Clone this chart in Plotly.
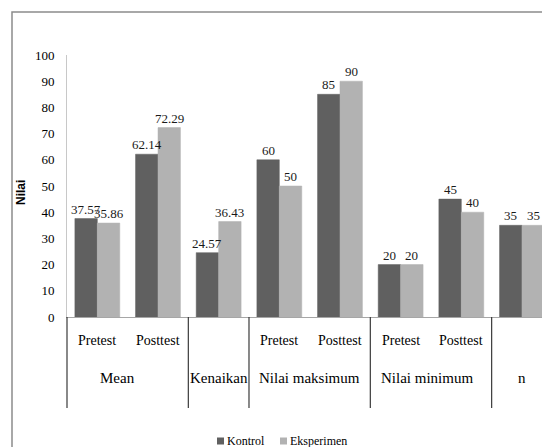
import plotly.graph_objects as go

groups = ["Mean", "Mean", "Kenaikan", "Nilai maksimum", "Nilai maksimum",
          "Nilai minimum", "Nilai minimum", "n"]
subs = ["Pretest", "Posttest", "", "Pretest", "Posttest", "Pretest", "Posttest", ""]
kontrol = [37.57, 62.14, 24.57, 60, 85, 20, 45, 35]
eksperimen = [35.86, 72.29, 36.43, 50, 90, 20, 40, 35]
series_names = ["Kontrol", "Eksperimen"]
series_colors = ["#606060", "#b2b2b2"]
y_title = "Nilai"

W, H = 542, 447
ML, MR, MT, MB = 67, 0, 55, 130
X_RANGE = [-0.5, 7.33]
BARGAP = 0.26
plot_w = W - ML - MR
plot_h = H - MT - MB

def pxx(px):
    return (px - ML) / plot_w

def pxy(py):
    return (H - MB - py) / plot_h

keys = [g + " | " + s if s else g for g, s in zip(groups, subs)]

SERIF = "Liberation Serif"
fig = go.Figure()
for name, vals, col in zip(series_names, [kontrol, eksperimen], series_colors):
    fig.add_trace(go.Bar(
        x=keys, y=vals, name=name, marker_color=col,
        marker_line=dict(color=col, width=0.5), showlegend=False))

annotations = []
# value labels (drawn above all bars)
bar_w = (1 - BARGAP) / 2
for k, vals in enumerate([kontrol, eksperimen]):
    off = (k - 0.5) * bar_w
    for i, v in enumerate(vals):
        annotations.append(dict(x=i + off, xref="x", y=v, yref="y", text=f"{v:g}",
                                showarrow=False, yanchor="bottom", yshift=0,
                                font=dict(family=SERIF, size=13, color="#1a1a1a")))
# sub-category labels
for i, s in enumerate(subs):
    if s:
        annotations.append(dict(x=i, xref="x", y=pxy(340), yref="paper", text=s,
                                showarrow=False, yanchor="middle",
                                font=dict(family=SERIF, size=14, color="#000000")))
# group labels
group_order = []
for i, g in enumerate(groups):
    if not group_order or group_order[-1][0] != g:
        group_order.append([g, i, i])
    else:
        group_order[-1][2] = i
group_shift = {"Mean": -10, "Nilai minimum": -4}
for g, a, b in group_order:
    cx = (a + b) / 2
    annotations.append(dict(x=cx, xref="x", y=pxy(378), yref="paper", text=g,
                            showarrow=False, yanchor="middle",
                            xshift=group_shift.get(g, 0),
                            font=dict(family=SERIF, size=15, color="#000000")))
# y axis title
annotations.append(dict(x=pxx(21), xref="paper", y=pxy(193), yref="paper",
                        text="<b>" + y_title + "</b>", textangle=-90, showarrow=False,
                        xanchor="center", yanchor="middle",
                        font=dict(family="Liberation Sans", size=12, color="#000000")))

shapes = []
# group dividers
bounds = [-0.5] + [b + 0.5 for _, _, b in group_order[:-1]]
for bx in bounds:
    xp = (bx - X_RANGE[0]) / (X_RANGE[1] - X_RANGE[0])
    shapes.append(dict(type="line", xref="paper", yref="paper", x0=xp, x1=xp,
                       y0=0, y1=pxy(408), line=dict(color="#3a3a3a", width=1.2)))
# outer frame
shapes.append(dict(type="rect", xref="paper", yref="paper",
                   x0=pxx(12), x1=pxx(W + 20), y0=pxy(H + 20), y1=pxy(12),
                   line=dict(color="#8c8c8c", width=1.5), layer="below"))

# legend (swatches + labels)
legend_items = [(217, 226), (280, 289)]
for (sx, tx), name, col in zip(legend_items, series_names, series_colors):
    shapes.append(dict(type="rect", xref="paper", yref="paper",
                       x0=pxx(sx), x1=pxx(sx + 7), y0=pxy(444.5), y1=pxy(437.5),
                       fillcolor=col, line=dict(width=0)))
    annotations.append(dict(x=pxx(tx), xref="paper", y=pxy(441), yref="paper",
                            text=name, showarrow=False, xanchor="left",
                            yanchor="middle", xshift=-1,
                            font=dict(family=SERIF, size=12, color="#000000")))

fig.update_layout(
    width=W, height=H,
    margin=dict(l=ML, r=MR, t=MT, b=MB, autoexpand=False),
    paper_bgcolor="white", plot_bgcolor="white",
    barmode="group", bargap=BARGAP, bargroupgap=0,
    font=dict(family=SERIF, size=12, color="#000000"),
    showlegend=False,
    annotations=annotations, shapes=shapes,
    xaxis=dict(type="category", range=X_RANGE, showticklabels=False,
               showline=True, linecolor="#a6a6a6", linewidth=1,
               showgrid=False, ticks="", zeroline=False),
    yaxis=dict(range=[0, 100], dtick=10, showgrid=False, zeroline=False,
               showline=True, linecolor="#c8c8c8", linewidth=1, ticks="",
               ticklabelstandoff=9,
               tickfont=dict(family=SERIF, size=13, color="#000000")),
)

fig.write_html("out.html", config={"displayModeBar": False},
               post_script="document.body.style.margin='0px';document.body.style.overflow='hidden';")
